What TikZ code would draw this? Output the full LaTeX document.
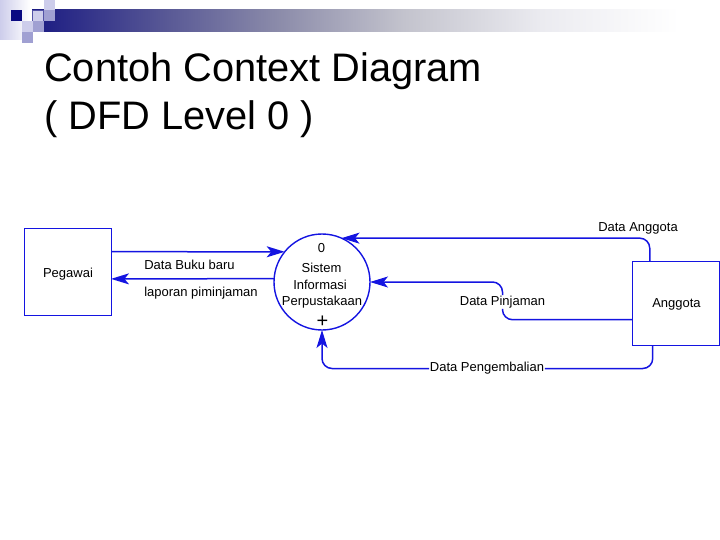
\documentclass[tikz,border=0pt]{standalone}
\usepackage{fontspec}
\setmainfont{Liberation Sans}
\usetikzlibrary{arrows.meta}
\definecolor{garis}{RGB}{20,20,225}
\definecolor{tua}{RGB}{10,10,130}
\definecolor{muda}{RGB}{205,205,235}
\definecolor{sedang}{RGB}{160,160,210}
\definecolor{pita1}{RGB}{26,26,130}
\definecolor{pita2}{RGB}{90,90,150}
\definecolor{pita3}{RGB}{140,140,170}
\definecolor{pita4}{RGB}{195,195,205}
\definecolor{pita5}{RGB}{235,235,240}
\pgfdeclarehorizontalshading{pita}{100bp}{
  color(0bp)=(pita1); color(25bp)=(pita1); color(35bp)=(pita2);
  color(43bp)=(pita3); color(52bp)=(pita4);
  color(62bp)=(pita5); color(72bp)=(white); color(100bp)=(white)}
\tikzset{
  entitas/.style={draw=garis,line width=1pt,fill=white,minimum width=87pt,minimum height=86pt,inner sep=0pt,outer sep=0pt},
  proses/.style={draw=garis,line width=1.4pt,circle,minimum size=96pt,inner sep=0pt,outer sep=0pt},
  teks/.style={font=\fontsize{13}{15}\selectfont,inner sep=0.5pt},
  judul/.style={font=\fontsize{39.8}{46}\selectfont,anchor=base west,inner sep=0pt},
  aliran/.style={draw=garis,line width=1.5pt,rounded corners=10pt,-{Stealth[length=18pt,width=11pt,inset=4.5pt]}},
  garisan/.style={draw=garis,line width=1.5pt,rounded corners=10pt},
  kotak/.style={minimum size=11pt,inner sep=0pt}
}
\begin{document}
\begin{tikzpicture}[x=1pt,y=-1pt]
    \useasboundingbox (0,0) rectangle (720,540);
    % hiasan slide
    \shade[left color=muda,right color=white] (0,0) rectangle (30,40);
    \shade[shading=pita] (32,10) rectangle (720,32);
    \node[kotak,fill=tua] (k1) at (16,16) {};
    \node[kotak,fill=muda,draw=tua!70,line width=0.4pt] (k2) at (38,16) {};
    \node[kotak,fill=muda] (k3) at (49,5) {};
    \node[kotak,fill=sedang] (k4) at (49,16) {};
    \node[kotak,fill=muda] (k5) at (27,27) {};
    \node[kotak,fill=sedang] (k6) at (38,27) {};
    \node[kotak,fill=sedang] (k7) at (27,38) {};
    % judul
    \node[judul] (judul1) at (44,82) {Contoh Context Diagram};
    \node[judul] (judul2) at (44,130) {( DFD Level 0 )};
    % simpul
    \node[entitas] (pegawai) at (67.5,272) {};
    \node[teks] (pegawaiteks) at (68,274) {Pegawai};
    \node[entitas,minimum height=84pt] (anggota) at (676,303) {};
    \node[teks] (anggotateks) at (676.5,304.5) {Anggota};
    \node[proses] (sistem) at (322,282) {};
    \node[teks] (nol) at (321.5,248) {0};
    \node[teks] (sistemteks) at (321.5,267.5) {Sistem};
    \node[teks] (informasi) at (320,284.5) {Informasi};
    \node[teks] (perpus) at (322,302) {Perpustakaan};
    \node[font=\fontsize{20}{20}\selectfont,inner sep=0pt] (plus) at (322.5,321.5) {+};
    % label
    \node[teks] (bukubaru) at (189.5,265) {Data Buku baru};
    \node[teks] (laporan) at (201,293) {laporan piminjaman};
    \node[teks] (dataanggota) at (638,228) {Data Anggota};
    \node[teks] (pinjaman) at (502.5,302) {Data Pinjaman};
    \node[teks] (pengembalian) at (487,368.5) {Data Pengembalian};
    % aliran data
    \draw[aliran] (pegawai.25) -- (sistem.141);
    \draw[aliran] (sistem.176) -- (pegawai.-9);
    \draw[aliran] (anggota.122) |- (sistem.66);
    \draw[garisan] (anggota.201) -| (pinjaman.south);
    \draw[aliran] (pinjaman.north) |- (sistem.east);
    \draw[garisan] (anggota.241) |- (pengembalian.east);
    \draw[aliran] (pengembalian.west) -| (sistem.south);
\end{tikzpicture}
\end{document}
